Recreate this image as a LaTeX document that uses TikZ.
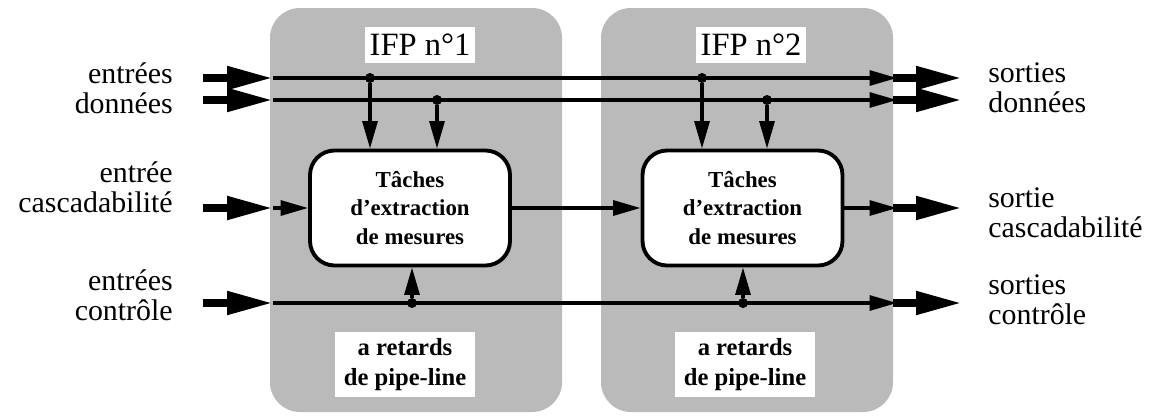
\documentclass[tikz,border=0pt]{standalone}
\usepackage{fontspec}
\setmainfont{Liberation Serif}
\usetikzlibrary{arrows.meta, positioning}

\begin{document}
\begin{tikzpicture}[
          ifp/.style={
              fill=black!27,
              rounded corners=17pt,
              minimum width=5.84cm,
              minimum height=8.08cm
            },
          title/.style={
              fill=white,
              inner sep=0pt,
              minimum width=2.2cm,
              minimum height=0.72cm,
              font=\fontsize{18.5}{18}\selectfont
            },
          task/.style={
              draw,
              fill=white,
              rounded corners=14pt,
              line width=2.2pt,
              minimum width=4cm,
              minimum height=2.3cm,
              align=center,
              font=\fontsize{13}{16}\selectfont\bfseries
            },
          delay/.style={
              fill=white,
              inner sep=0pt,
              minimum width=2.8cm,
              minimum height=1.3cm,
              align=center,
              font=\fontsize{14}{17}\selectfont\bfseries
            },
          io/.style={inner sep=0pt, font=\fontsize{17}{17}\selectfont},
          dot/.style={circle, fill, inner sep=0pt, minimum size=0.2cm},
          arr/.style={-{Triangle[length=0.55cm, width=0.3cm]}, line width=1.8pt},
          bigarr/.style={-{Triangle[length=0.92cm, width=0.44cm]}, line width=4.5pt}
        ]
        \useasboundingbox (0,0) rectangle (23.24,8.36);

        \node[ifp] (ifp1) at (8.32,4.16) {};
        \node[ifp] (ifp2) at (14.94,4.16) {};
        \node[title] (ifp1_title) at (8.4,7.46) {IFP n°1};
        \node[title] (ifp2_title) at (15.02,7.46) {IFP n°2};
        \node[task] (ifp1_task) at (8.2,4.2) {Tâches\\d'extraction\\de mesures};
        \node[task] (ifp2_task) at (14.85,4.2) {Tâches\\d'extraction\\de mesures};
        \node[delay] (ifp1_delay) at (8.1,1.07) {a retards\\de pipe-line};
        \node[delay] (ifp2_delay) at (14.9,1.07) {a retards\\de pipe-line};

        \node[io, anchor=east, align=right] (in_data) at (3.46,6.6) {entrées\\données};
        \node[io, anchor=east, align=right] (in_casc) at (3.46,4.62) {entrée\\cascadabilité};
        \node[io, anchor=east, align=right] (in_ctrl) at (3.46,2.46) {entrées\\contrôle};
        \node[io, anchor=west, align=left] (out_data) at (19.76,6.6) {sorties\\données};
        \node[io, anchor=west, align=left] (out_casc) at (19.76,4.1) {sortie\\cascadabilité};
        \node[io, anchor=west, align=left] (out_ctrl) at (19.76,2.36) {sorties\\contrôle};

        % bus ends
        \foreach \n/\y in {d1/6.8, d2/6.36, c/4.2, k/2.3} {
            \coordinate (\n_in) at (4.06,\y);
            \coordinate (\n_join) at (5.46,\y);
            \coordinate (\n_end) at (17.94,\y);
            \coordinate (\n_out) at (17.86,\y);
            \coordinate (\n_tip) at (19.24,\y);
          }

        % taps
        \node[dot] (ifp1_d1) at (7.4,6.8) {};
        \node[dot] (ifp1_d2) at (8.74,6.36) {};
        \node[dot] (ifp2_d1) at (14.04,6.8) {};
        \node[dot] (ifp2_d2) at (15.34,6.36) {};
        \node[dot] (ifp1_k) at (8.24,2.3) {};
        \node[dot] (ifp2_k) at (14.86,2.3) {};

        \draw[arr] (d1_join) -- (d1_end);
        \draw[arr] (d2_join) -- (d2_end);
        \draw[arr] (k_join) -- (k_end);
        \draw[arr] (c_join) -- (ifp1_task.west);
        \draw[arr] (ifp1_task.east) -- (ifp2_task.west);
        \draw[arr] (ifp2_task.east) -- (c_end);

        \draw[arr] (ifp1_d1) -- (ifp1_d1 |- ifp1_task.north);
        \draw[arr] (ifp1_d2) -- (ifp1_d2 |- ifp1_task.north);
        \draw[arr] (ifp2_d1) -- (ifp2_d1 |- ifp2_task.north);
        \draw[arr] (ifp2_d2) -- (ifp2_d2 |- ifp2_task.north);
        \draw[arr] (ifp1_k) -- (ifp1_k |- ifp1_task.south);
        \draw[arr] (ifp2_k) -- (ifp2_k |- ifp2_task.south);

        \foreach \n in {d1, d2, c, k} {
            \draw[bigarr] (\n_in) -- (\n_join);
            \draw[bigarr] (\n_out) -- (\n_tip);
          }
      \end{tikzpicture}
\end{document}
